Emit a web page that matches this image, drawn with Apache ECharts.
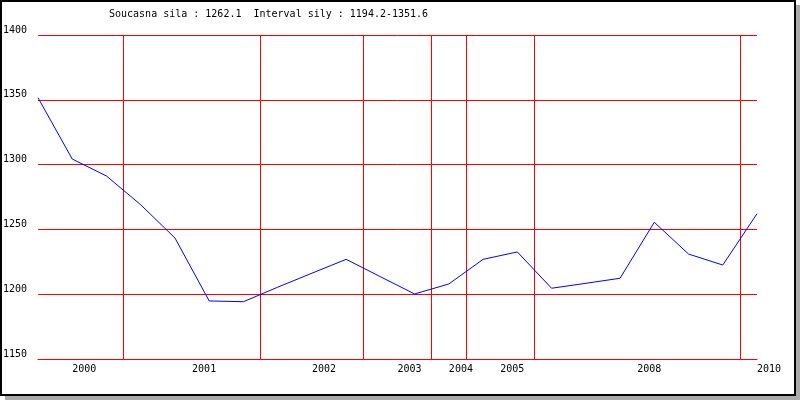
<!DOCTYPE html>
<html>
<head>
<meta charset="utf-8">
<script src="https://cdn.jsdelivr.net/npm/echarts@6/dist/echarts.min.js"></script>
<style>
  html, body { margin: 0; padding: 0; background: #fff; }
  #wrap { position: relative; width: 800px; height: 400px; overflow: hidden; }
  #chart { position: absolute; left: 0; top: 0; width: 800px; height: 400px; }
  #frame { position: absolute; left: 0; top: 0; width: 796px; height: 396px; box-sizing: border-box;
           border: 2px solid #000; pointer-events: none; }
  #shadowR { position: absolute; left: 796px; top: 5px; width: 4px; height: 395px; background: #aaaaaa; }
  #shadowB { position: absolute; left: 5px; top: 396px; width: 795px; height: 4px; background: #aaaaaa; }
</style>
</head>
<body>
<div id="wrap">
  <div id="chart"></div>
  <div id="frame"></div>
  <div id="shadowR"></div>
  <div id="shadowB"></div>
</div>
<script>
// Year of each measurement (one entry per data point)
var pointYears = ['2000','2000','2000',
                  '2001','2001','2001','2001',
                  '2002','2002','2002',
                  '2003','2003',
                  '2004',
                  '2005','2005',
                  '2008','2008','2008','2008','2008','2008',
                  '2010'];
// Strength values
var strength = [1351.6, 1304.3, 1291.2, 1269.0, 1243.4, 1194.8, 1194.2,
                1205.4, 1216.2, 1226.9, 1213.5, 1200.2, 1207.9, 1226.9,
                1232.6, 1204.6, 1208.4, 1212.3, 1255.5, 1231.0, 1222.5, 1262.1];
// Y axis ticks
var yTicks = [1150, 1200, 1250, 1300, 1350, 1400];

// derive year groups
var yearNames = [], yearMid = [], yearBounds = [];
(function () {
  var start = 0;
  for (var i = 1; i <= pointYears.length; i++) {
    if (i === pointYears.length || pointYears[i] !== pointYears[start]) {
      yearNames.push(pointYears[start]);
      yearMid.push((start + i - 1) / 2);
      if (i < pointYears.length) yearBounds.push(i - 0.5);
      start = i;
    }
  }
})();

var seriesData = strength.map(function (v, i) { return [i, v]; });
var cur = strength[strength.length - 1];
var mn = Math.min.apply(null, strength), mx = Math.max.apply(null, strength);
var titleText = 'Soucasna sila : ' + cur.toFixed(1) + '  Interval sily : ' + mn.toFixed(1) + '-' + mx.toFixed(1);

var mono = 'DejaVu Sans Mono';
var chart = echarts.init(document.getElementById('chart'), null, { renderer: 'canvas' });
chart.setOption({
  animation: false,
  backgroundColor: '#fff',
  title: {
    text: titleText,
    left: 109, top: 9, padding: 0,
    textStyle: { fontFamily: mono, fontSize: 10, fontWeight: 'normal', color: '#000' }
  },
  grid: { left: 38, right: 43, top: 35, bottom: 41, containLabel: false },
  xAxis: {
    type: 'value', min: 0, max: strength.length - 1,
    splitLine: { show: false },
    axisTick: { show: false },
    axisLine: { show: true, lineStyle: { color: '#ff0000', width: 1 } },
    axisLabel: {
      customValues: yearMid,
      formatter: function (v) {
        var k = yearMid.indexOf(v);
        return k >= 0 ? yearNames[k] : '';
      },
      align: 'left', margin: 5,
      fontFamily: mono, fontSize: 10, color: '#000'
    }
  },
  yAxis: {
    type: 'value', min: yTicks[0], max: yTicks[yTicks.length - 1], interval: 50,
    axisLine: { show: false },
    axisTick: { show: false },
    splitLine: { show: true, lineStyle: { color: '#ff0000', width: 1, type: 'solid' } },
    axisLabel: {
      align: 'left', margin: 35, verticalAlign: 'bottom',
      formatter: function (v) { return String(v); },
      fontFamily: mono, fontSize: 10, color: '#000'
    }
  },
  series: [{
    type: 'line',
    data: seriesData,
    showSymbol: false,
    symbol: 'none',
    lineStyle: { color: '#0000ff', width: 1 },
    z: 5,
    markLine: {
      silent: true,
      symbol: ['none', 'none'],
      label: { show: false },
      lineStyle: { color: '#ff0000', width: 1, type: 'solid' },
      data: yearBounds.map(function (b) { return { xAxis: b }; })
    }
  }]
});
</script>
</body>
</html>
